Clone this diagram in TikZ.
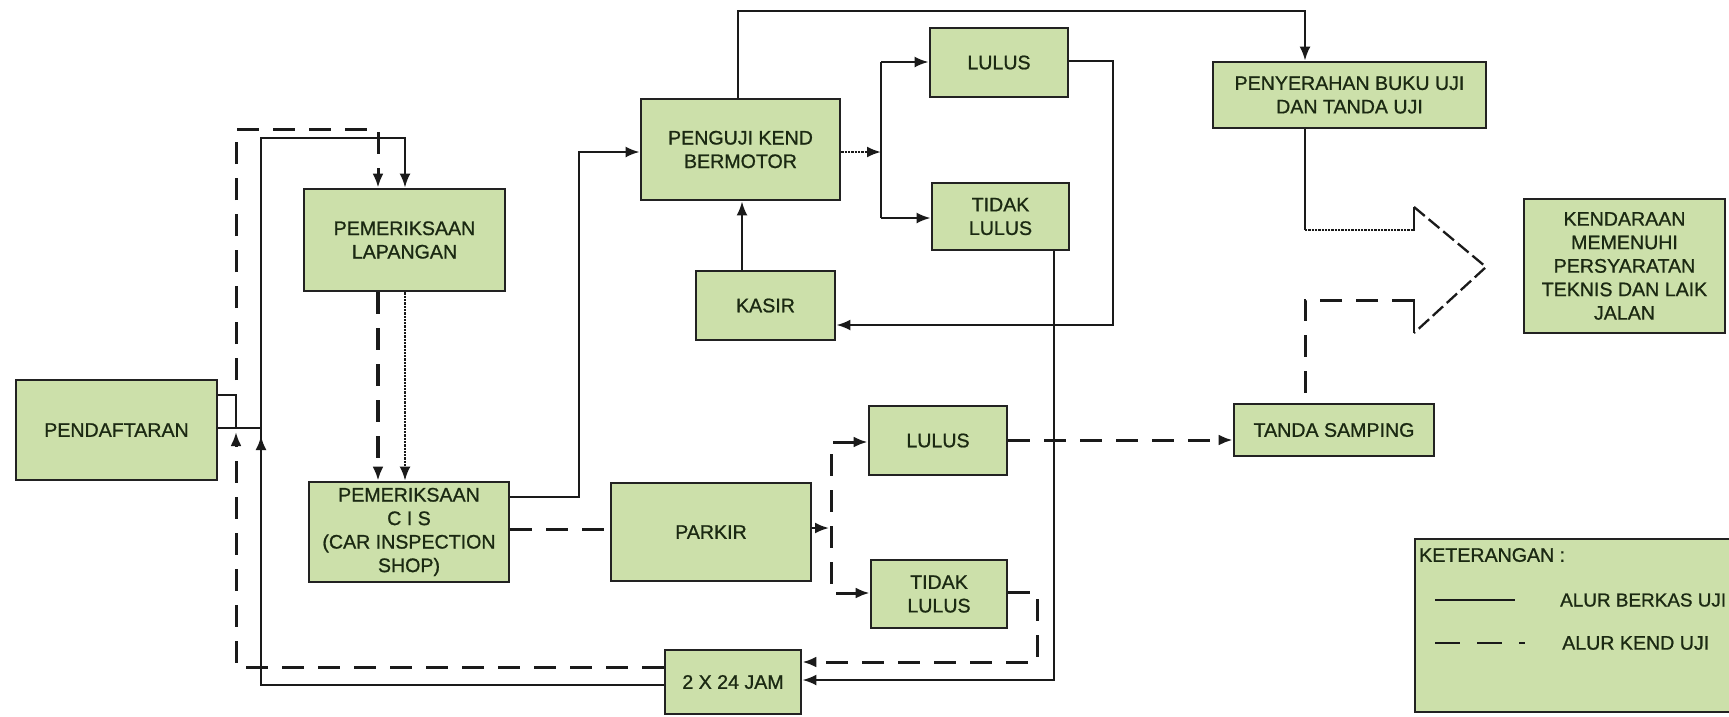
\documentclass[tikz,border=0pt]{standalone}
\usepackage{fontspec}
\setmainfont{Liberation Sans}
\newfontfamily\boxfam{Liberation Sans}[FakeBold=0.9]
\usetikzlibrary{arrows.meta}
\definecolor{boxc}{HTML}{CCE0AA}
\definecolor{bordc}{HTML}{222222}
\definecolor{linec}{HTML}{1A1A1A}
\definecolor{txtc}{HTML}{1B2912}
\newcommand\boxfont{\boxfam\fontsize{19.6}{23.5}\selectfont}
\tikzset{
  box/.style={draw=bordc, line width=2.8pt, fill=boxc, inner sep=0pt, align=center, text=txtc, font=\boxfont},
  flow/.style={line width=2.3pt, draw=linec},
  veh/.style={line width=3pt, draw=linec, dash pattern=on 22pt off 14pt},
  tip/.style={-{Latex[length=14pt,width=11pt]}},
  tips/.style={{Latex[length=14pt,width=11pt]}-{Latex[length=14pt,width=11pt]}},
  lbl/.style={text=txtc, font=\boxfont, inner sep=0pt, anchor=west},
}
\begin{document}
\begin{tikzpicture}[x=1pt,y=-1pt]
\useasboundingbox (0,0) rectangle (1729,716);
\fill[white] (0,0) rectangle (1729,716);

% nodes
\node[box, minimum width=201pt, minimum height=100pt] (pend) at (116.5,430) {PENDAFTARAN};
\node[box, minimum width=201pt, minimum height=102pt] (lap) at (404.5,240) {PEMERIKSAAN\\LAPANGAN};
\node[box, minimum width=200pt, minimum height=100pt] (cis) at (409,532) {PEMERIKSAAN\\C I S\\(CAR INSPECTION\\SHOP)};
\node[box, minimum width=199pt, minimum height=101pt] (peng) at (740.5,149.5) {PENGUJI KEND\\BERMOTOR};
\node[box, minimum width=138pt, minimum height=69pt] (lulus1) at (999,62.5) {LULUS};
\node[box, minimum width=137pt, minimum height=67pt] (tidak1) at (1000.5,216.5) {TIDAK\\LULUS};
\node[box, minimum width=139pt, minimum height=69pt] (kasir) at (765.5,305.5) {KASIR};
\node[box, minimum width=200pt, minimum height=98pt] (parkir) at (711,532) {PARKIR};
\node[box, minimum width=138pt, minimum height=69pt] (lulus2) at (938,440.5) {LULUS};
\node[box, minimum width=136pt, minimum height=68pt] (tidak2) at (939,594) {TIDAK\\LULUS};
\node[box, minimum width=136pt, minimum height=64pt] (jam) at (733,682) {2 X 24 JAM};
\node[box, minimum width=273pt, minimum height=66pt] (peny) at (1349.5,95) {PENYERAHAN BUKU UJI\\DAN TANDA UJI};
\node[box, minimum width=201pt, minimum height=134pt] (kend) at (1624.5,266) {KENDARAAN\\MEMENUHI\\PERSYARATAN\\TEKNIS DAN LAIK\\JALAN};
\node[box, minimum width=200pt, minimum height=52pt] (tanda) at (1334,430) {TANDA SAMPING};
\node[box, minimum width=325pt, minimum height=173pt] (ket) at (1577.5,625.5) {};

% legend
\node[lbl] (kettxt) at (1419,555) {KETERANGAN :};
\coordinate (lgA) at (1435,600);
\coordinate (lgB) at (1515,600);
\coordinate (lgC) at (1435,643);
\coordinate (lgD) at (1525,643);
\draw[flow, line width=2.6pt] (lgA) -- (lgB);
\draw[line width=2.8pt, draw=linec, dash pattern=on 25pt off 17pt] (lgC) -- (lgD);
\node[lbl, font=\boxfam\fontsize{18.9}{22}\selectfont] (lg1) at (1560,600) {ALUR BERKAS UJI};
\node[lbl] (lg2) at (1562,643) {ALUR KEND UJI};

% solid flows (berkas)
\draw[flow] (pend.east |- 0,428) -- (261,428);
\draw[flow] (pend.east |- 0,395) -| (236,428);
\draw[flow,tip] (jam.west |- 0,685) -| (261,436);
\draw[flow,tip] (261,440) |- (405,138) -- (lap.north -| 405,0);
\draw[flow,densely dotted,tip] (lap.south -| 405,0) -- (cis.north -| 405,0);
\draw[flow,tip] (cis.east |- 0,497) -| (579,152) -- (peng.west |- 0,152);
\draw[flow,densely dotted,tip] (peng.east |- 0,152) -- (881,152);
\draw[flow] (881,62) -- (881,218);
\draw[flow,tip] (881,62) -- (lulus1.west |- 0,62);
\draw[flow,tip] (881,218) -- (tidak1.west |- 0,218);
\draw[flow,tip] (peng.north -| 738,0) |- (1305,11) -- (peny.north -| 1305,0);
\draw[flow,tip] (lulus1.east |- 0,61) -| (1113,325) -- (kasir.east |- 0,325);
\draw[flow,tip] (kasir.north -| 742,0) -- (peng.south -| 742,0);
\draw[flow,tip] (tidak1.south -| 1054,0) |- (jam.east |- 0,680);

% big arrow outline
\draw[flow] (peny.south -| 1305,0) -- (1305,230);
\draw[flow,densely dotted] (1305,230) -- (1414,230);
\draw[flow] (1414,231) -- (1414,207);
\draw[flow, dash pattern=on 14pt off 5pt] (1414,207) -- (1486,267) -- (1414,333);
\draw[flow] (1414,333) -- (1414,299);
\draw[veh] (1414,300) -- (1305,300) -- (tanda.north -| 1305,0);

% dashed flows (kendaraan)
\draw[veh,tip] (236,380) |- (378,129) -- (lap.north -| 378,0);
\draw[veh,tip] (jam.west |- 0,667) -| (236,432);
\draw[veh,line width=3.6pt,tip] (lap.south -| 378,0) -- (cis.north -| 378,0);
\draw[veh] (cis.east |- 0,529) -- (parkir.west |- 0,529);
\draw[flow,tip] (parkir.east |- 0,528) -- (829,528);
\draw[veh,tips] (lulus2.west |- 0,442) -- (831,442) -- (831,593) -- (tidak2.west |- 0,593);
\draw[veh,tip] (lulus2.east |- 0,440) -- (tanda.west |- 0,440);
\draw[veh,tip] (tidak2.east |- 0,592) -| (1037,662) -- (jam.east |- 0,662);
\end{tikzpicture}
\end{document}
